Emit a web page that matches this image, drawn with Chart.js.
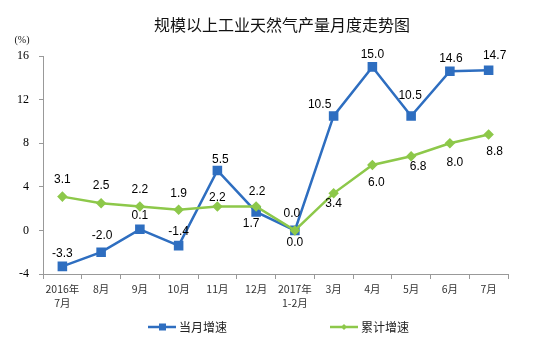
<!DOCTYPE html>
<html>
<head>
<meta charset="utf-8">
<script src="https://cdn.jsdelivr.net/npm/chart.js@4/dist/chart.umd.min.js"></script>
<style>
    body { margin: 0; background: #fff; }
</style>
</head>
<body>
<canvas id="c" width="551" height="350"></canvas>
<script>
const labels = [["2016年", "7月"], "8月", "9月", "10月", "11月", "12月", ["2017年", "1-2月"], "3月", "4月", "5月", "6月", "7月"]
const monthly = [-3.3, -2.0, 0.1, -1.4, 5.5, 1.7, 0.0, 10.5, 15.0, 10.5, 14.6, 14.7]
const cumulative = [3.1, 2.5, 2.2, 1.9, 2.2, 2.2, 0.0, 3.4, 6.0, 6.8, 8.0, 8.8]
const yTicks = [-4, 0, 4, 8, 12, 16]

const BLUE = '#2E6EC0'
const GREEN = '#8DC84A'
const CJK = '"Noto Sans CJK SC", "Noto Sans", sans-serif'

// label offsets [dx, dy] from the point, per series
const blueOff = [[0,-13],[1,-17],[0,-14],[0,-14],[3,-11],[-5,12],[-3,-17],[-14,-11],[0,-12],[-1,-20],[1,-13],[6,-14]]
const greenOff = [[0,-17],[0,-17],[0,-17],[0,-16],[0,-9],[1,-15],[0,12],[0,10],[4,18],[7,10],[5,19],[6,17]]

const decor = {
    id: 'decor',
    afterDatasetsDraw(chart) {
        const ctx = chart.ctx
        ctx.save()
        ctx.fillStyle = '#000'
        ctx.textAlign = 'center'
        ctx.textBaseline = 'middle'
        ctx.font = '12px "Liberation Sans", Arial, sans-serif'
        const draw = (di, vals, offs) => {
            chart.getDatasetMeta(di).data.forEach((pt, i) => {
                ctx.fillText(vals[i].toFixed(1), pt.x + offs[i][0], pt.y + offs[i][1])
            })
        }
        draw(1, cumulative, greenOff)
        draw(0, monthly, blueOff)

        // title
        ctx.font = '16px ' + CJK
        ctx.fillStyle = '#111'
        ctx.fillText('规模以上工业天然气产量月度走势图', 282, 25)
        ctx.font = '10px "Liberation Serif", serif'
        ctx.fillText('(%)', 22, 40)

        // legend
        const leg = (x, color, text, square) => {
            const y = 327
            ctx.strokeStyle = color
            ctx.lineWidth = 2.5
            ctx.beginPath(); ctx.moveTo(x, y); ctx.lineTo(x + 28, y); ctx.stroke()
            ctx.fillStyle = color
            if (square) {
                ctx.fillRect(x + 11, y - 3.5, 7, 7)
            } else {
                ctx.beginPath()
                ctx.moveTo(x + 14, y - 3); ctx.lineTo(x + 17, y); ctx.lineTo(x + 14, y + 3); ctx.lineTo(x + 11, y)
                ctx.fill()
            }
            ctx.fillStyle = '#222'
            ctx.textAlign = 'left'
            ctx.font = '12px ' + CJK
            ctx.fillText(text, x + 31, y)
        }
        leg(148, BLUE, '当月增速', true)
        leg(330, GREEN, '累计增速', false)
        ctx.restore()
    }
}

const chart = new Chart(document.getElementById('c'), {
    type: 'line',
    data: {
        labels: labels,
        datasets: [{
            label: '当月增速',
            data: monthly,
            borderColor: BLUE,
            backgroundColor: BLUE,
            borderWidth: 2.5,
            pointStyle: 'rect',
            pointRadius: 5,
            pointHoverRadius: 5,
            tension: 0,
            order: 1
        }, {
            label: '累计增速',
            data: cumulative,
            borderColor: GREEN,
            backgroundColor: GREEN,
            borderWidth: 2.5,
            pointStyle: 'rectRot',
            pointRadius: 3.5,
            pointHoverRadius: 3.5,
            tension: 0,
            order: 0
        }]
    },
    options: {
        responsive: false,
        animation: false,
        events: [],
        layout: { padding: { left: 0, right: 43, top: 56, bottom: 0 } },
        plugins: { legend: { display: false }, title: { display: false }, tooltip: { enabled: false } },
        scales: {
            x: {
                offset: true,
                grid: { offset: true, drawOnChartArea: false, drawTicks: true, tickLength: 5, color: '#999' },
                border: { color: '#999', width: 1 },
                ticks: { color: '#333', font: { family: CJK, size: 10.5, lineHeight: 1.35 }, padding: 3, maxRotation: 0, autoSkip: false },
                afterFit(s) { s.height = 76 }
            },
            y: {
                min: -4,
                max: 16,
                afterBuildTicks(s) { s.ticks = yTicks.map(v => ({ value: v })) },
                grid: { drawOnChartArea: false, drawTicks: true, tickLength: 4, color: '#999' },
                border: { color: '#999', width: 1 },
                ticks: { color: '#000', font: { family: '"Liberation Serif", serif', size: 12 }, padding: 10 },
                afterFit(s) { s.width = 43 }
            }
        }
    },
    plugins: [decor]
})
</script>
</body>
</html>
